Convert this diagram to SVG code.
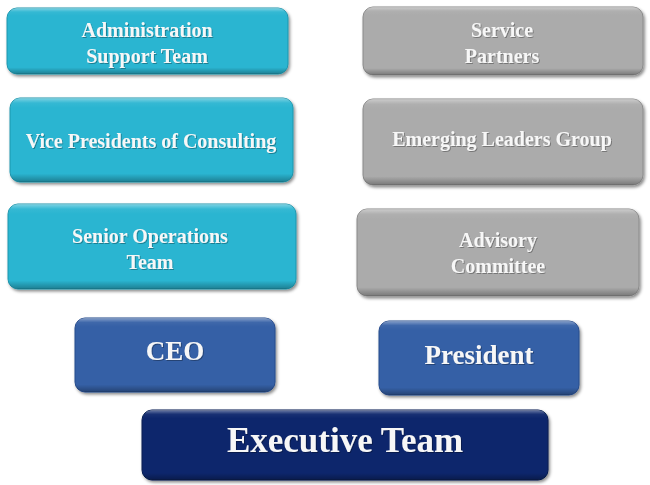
<svg xmlns="http://www.w3.org/2000/svg" width="650" height="485" viewBox="0 0 650 485">
<defs>
<linearGradient id="bevel" x1="0" y1="0" x2="0" y2="1">
<stop offset="0" stop-color="#ffffff" stop-opacity="0.4"/>
<stop offset="0.06" stop-color="#ffffff" stop-opacity="0.05"/>
<stop offset="0.12" stop-color="#ffffff" stop-opacity="0"/>
<stop offset="0.9" stop-color="#000000" stop-opacity="0"/>
<stop offset="1" stop-color="#000000" stop-opacity="0.3"/>
</linearGradient>
<filter id="shadow" x="-5%" y="-10%" width="112%" height="130%">
<feDropShadow dx="1.5" dy="2" stdDeviation="1.5" flood-color="#000" flood-opacity="0.45"/>
</filter>
<filter id="tshadow" x="-5%" y="-20%" width="110%" height="150%">
<feDropShadow dx="1" dy="1" stdDeviation="0.6" flood-color="#000" flood-opacity="0.3"/>
</filter>
</defs>
<style>
.box{filter:url(#shadow);}
.teal{fill:#2BB5D1;stroke:#1E97AE;stroke-width:1;}
.gray{fill:#ABABAB;stroke:#8A8A8A;stroke-width:1;}
.blue{fill:#3660A6;stroke:#274C8C;stroke-width:1;}
.navy{fill:#0C276C;stroke:#061A4F;stroke-width:1;}
.bev{fill:url(#bevel);}
text{font-family:"Liberation Serif","Times New Roman",serif;font-weight:bold;fill:#F7F7F7;text-anchor:middle;filter:url(#tshadow);}
.s20{font-size:20px;}
.s27{font-size:27px;}
.s35{font-size:35px;}
</style>
<rect width="650" height="485" fill="#ffffff"/>
<g id="connectors"/>
<g id="admin-support">
<rect class="box teal" x="7" y="8" width="281" height="66" rx="10"/>
<rect class="bev" x="7" y="8" width="281" height="66" rx="10"/>
<text class="s20" x="147" y="37">Administration</text>
<text class="s20" x="147" y="63">Support Team</text>
</g>
<g id="vice-presidents">
<rect class="box teal" x="10" y="98" width="283" height="84" rx="10"/>
<rect class="bev" x="10" y="98" width="283" height="84" rx="10"/>
<text class="s20" x="151" y="148">Vice Presidents of Consulting</text>
</g>
<g id="senior-operations">
<rect class="box teal" x="8" y="204" width="288" height="85" rx="10"/>
<rect class="bev" x="8" y="204" width="288" height="85" rx="10"/>
<text class="s20" x="150" y="243">Senior Operations</text>
<text class="s20" x="150" y="269">Team</text>
</g>
<g id="service-partners">
<rect class="box gray" x="363" y="7" width="280" height="68" rx="10"/>
<rect class="bev" x="363" y="7" width="280" height="68" rx="10"/>
<text class="s20" x="502" y="37">Service</text>
<text class="s20" x="502" y="63">Partners</text>
</g>
<g id="emerging-leaders">
<rect class="box gray" x="363" y="99" width="280" height="86" rx="10"/>
<rect class="bev" x="363" y="99" width="280" height="86" rx="10"/>
<text class="s20" x="502" y="146">Emerging Leaders Group</text>
</g>
<g id="advisory-committee">
<rect class="box gray" x="357" y="209" width="282" height="87" rx="10"/>
<rect class="bev" x="357" y="209" width="282" height="87" rx="10"/>
<text class="s20" x="498" y="247">Advisory</text>
<text class="s20" x="498" y="273">Committee</text>
</g>
<g id="ceo">
<rect class="box blue" x="75" y="318" width="200" height="74" rx="10"/>
<rect class="bev" x="75" y="318" width="200" height="74" rx="10"/>
<text class="s27" x="175" y="360">CEO</text>
</g>
<g id="president">
<rect class="box blue" x="379" y="321" width="200" height="74" rx="10"/>
<rect class="bev" x="379" y="321" width="200" height="74" rx="10"/>
<text class="s27" x="479" y="364">President</text>
</g>
<g id="executive-team">
<rect class="box navy" x="142" y="410" width="406" height="70" rx="10"/>
<rect class="bev" x="142" y="410" width="406" height="70" rx="10"/>
<text class="s35" x="345" y="452">Executive Team</text>
</g>
</svg>
